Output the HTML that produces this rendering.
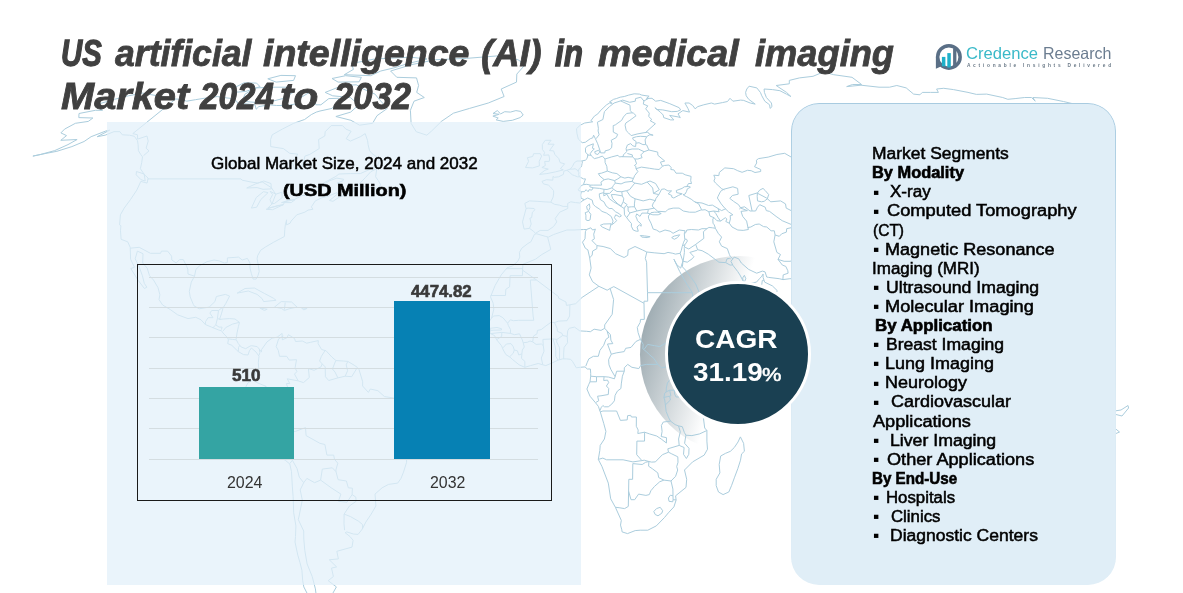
<!DOCTYPE html>
<html lang="en"><head><meta charset="utf-8"><title>US artificial intelligence (AI) in medical imaging Market 2024 to 2032</title>
<style>
html,body{margin:0;padding:0;background:#fff}
#root{position:relative;width:1183px;height:593px;overflow:hidden;background:#fff;font-family:"Liberation Sans",sans-serif}
.t{position:absolute;white-space:nowrap;line-height:1em;display:block;transform-origin:0 0}
.abs{position:absolute}
#lp{left:107px;top:122px;width:474px;height:462.5px;background:rgba(226,240,249,.72)}
#box{left:136.5px;top:264px;width:415px;height:236.5px;border:1px solid #1a1a1a;box-sizing:border-box}
.gl{position:absolute;left:149px;width:389px;height:1px;background:#d4dde1}
#b1{left:199px;top:387px;width:95px;height:72px;background:#34a4a3}
#b2{left:393.7px;top:301px;width:96.5px;height:158px;background:#0681b4}
#rp{left:790.5px;top:103px;width:325.5px;height:481.5px;border-radius:28px;background:#e0eef7}
#rpb{left:790.5px;top:103px;width:325.5px;height:481.5px;box-sizing:border-box;border-radius:28px;border:1.6px solid #a8cbe0;-webkit-mask-image:linear-gradient(to bottom,#000 0%,rgba(0,0,0,.85) 12%,rgba(0,0,0,.25) 35%,rgba(0,0,0,.08) 60%,transparent 100%);mask-image:linear-gradient(to bottom,#000 0%,rgba(0,0,0,.85) 12%,rgba(0,0,0,.25) 35%,rgba(0,0,0,.08) 60%,transparent 100%)}
#cres{left:639.7px;top:255.7px;width:197px;height:197px;border-radius:50%;background:linear-gradient(107deg,#7d8f97 0%,#a2afb5 11%,#fff 45%)}
#circ{left:665.1px;top:280.6px;width:146.3px;height:146.3px;border-radius:50%;background:#1a4052;border:3.4px solid #fff;box-sizing:border-box}
.bu{position:absolute;left:873.6px;width:4.2px;height:4.2px;background:#0a0a0a}

</style></head><body>
<div id="root">
<div class="abs" id="cres"></div>
<svg class="abs" id="map" style="left:0;top:0" width="1183" height="593" viewBox="0 0 1183 593" fill="none" stroke="#abcddd" stroke-width="1"><path d="M524.8 203.4L526.1 208.5L522.5 221.9L524.1 229.1L529.5 228.3L533.3 231.2L535.6 233.3L540.1 230.4L548.0 230.4L553.5 226.6L556.8 221.9L555.2 218.5L559.7 212.2L567.8 208.5L567.7 203.4L570.8 201.8L575.6 202.6L579.8 203.0L582.9 200.5L587.7 198.0L592.2 200.1L593.2 204.3L595.3 206.4L599.2 208.9L602.0 211.4L606.6 213.1L611.2 216.4L613.1 221.1L611.5 224.9L614.5 222.8L616.6 220.7L614.4 217.7L615.7 214.8L619.6 216.9L621.4 216.0L619.5 213.9L615.6 211.8L612.0 208.5L609.2 208.5L606.1 206.0L603.9 201.8L600.4 199.7L599.4 195.9L599.3 193.8L603.8 192.6L603.8 195.9L606.9 194.2L609.4 198.8L613.6 201.8L617.8 204.3L621.0 206.4L624.2 208.5L624.5 214.8L626.7 217.7L629.3 221.1L631.5 223.6L631.3 226.2L633.2 230.0L636.2 231.2L638.3 231.2L637.0 227.0L639.4 224.9L641.2 226.2L641.1 224.0L637.4 220.7L637.0 219.0L635.8 216.4L636.7 213.9L640.0 216.4L641.9 213.1L647.2 213.1L650.0 213.9L648.4 216.0L648.6 218.5L651.0 223.2L653.2 229.1L656.4 230.0L659.8 232.1L665.0 230.0L670.1 231.2L673.1 233.3L679.3 230.0L685.1 230.8L684.3 233.8L684.8 239.7L683.6 242.2L682.1 246.9L681.3 250.3L680.1 253.3L675.4 254.1L672.8 253.3L668.0 252.4L664.1 253.7L654.2 252.8L646.8 252.0L642.4 249.9L635.0 246.5L628.2 249.9L627.7 255.4L624.1 257.5L615.6 253.7L610.4 248.6L603.1 246.5L596.9 245.6L591.9 240.5L594.4 238.8L593.7 234.2L595.4 229.1L592.6 230.0L590.8 227.8L586.5 229.5L583.7 229.5L574.0 230.0L566.9 230.0L555.7 233.8L553.5 234.6L548.4 237.1L545.2 236.3L536.7 233.8L534.5 234.2L530.9 241.8L527.9 243.5L521.8 248.2L519.4 252.4L519.8 257.1L517.8 261.3L512.4 266.0L507.2 267.7L501.2 274.9L495.1 285.5L490.5 296.9L493.2 303.3L493.8 309.2L491.6 318.1L487.6 323.7L490.5 329.2L490.0 333.4L494.5 335.5L496.7 339.8L501.5 345.7L503.3 350.0L505.9 354.6L510.1 357.2L512.3 359.3L519.1 364.8L524.8 367.3L530.5 365.6L538.2 363.5L545.8 365.6L552.7 362.7L558.0 360.1L562.6 358.9L566.4 358.9L570.6 359.3L572.5 361.4L574.0 363.9L576.3 367.8L580.1 367.3L585.0 366.9L587.3 369.0L590.4 369.0L590.7 373.3L590.7 376.2L590.0 381.8L588.8 384.3L586.9 389.0L590.0 396.2L595.3 402.5L598.4 406.4L599.9 411.0L600.3 411.9L603.7 423.3L605.9 431.4L604.4 439.0L600.2 445.4L599.8 450.5L598.3 459.4L602.0 466.6L608.3 483.1L610.7 498.8L615.4 507.3L621.3 520.4L620.5 525.1L621.8 529.8L622.1 531.9L627.5 533.6L635.2 530.6L640.2 530.2L647.8 530.2L656.3 525.9L664.5 517.5L668.4 512.8L673.9 506.9L676.1 500.1L675.6 495.8L686.0 487.4L686.7 479.3L684.5 470.0L692.6 461.9L704.2 455.1L707.5 449.2L706.9 441.1L706.9 430.5L704.7 428.0L703.0 414.8L701.1 411.4L702.8 405.9L704.7 403.0L709.3 395.8L712.0 393.2L715.5 387.7L726.1 377.5L735.9 366.9L742.8 352.1L746.5 345.7L748.0 336.0L739.4 338.1L731.8 338.9L724.4 341.9L717.7 337.2L716.8 332.1L714.5 330.0L709.4 324.5L702.8 319.8L699.0 309.7L693.5 302.9L692.3 292.7L687.1 284.6L679.7 271.5L673.9 259.2L676.8 264.7L680.7 268.1L681.6 265.1L683.0 260.9L682.4 266.8L685.6 270.2L689.2 274.9L695.6 283.8L700.2 294.8L705.1 303.3L708.0 308.8L713.9 314.3L715.8 322.8L717.5 329.6L718.3 332.1L724.0 331.7L735.2 326.6L739.3 324.5L750.7 318.6L757.2 313.9L761.5 311.4L765.5 309.7L770.5 304.6L774.2 299.1L777.2 290.6L772.4 285.9L764.6 282.1L763.1 277.4L763.1 274.0L761.8 276.2L759.5 278.7L756.5 282.1L749.9 283.4L746.1 282.9L744.5 281.7L745.8 278.7L744.4 275.3L742.7 277.9L743.0 280.8L739.9 274.9L737.7 271.5L733.1 265.6L730.9 261.3L732.9 258.8L734.1 257.1L738.7 258.8L741.3 263.0L748.6 269.4L756.7 273.2L762.4 271.1L765.1 271.9L766.7 277.0L768.6 277.4L779.2 278.7L783.0 279.6L789.9 278.7L801.4 278.7L802.0 280.8L805.4 284.6L808.1 285.9M524.8 203.4L529.5 200.9L537.1 201.3L543.9 201.8L550.8 202.2L553.1 197.1L553.7 193.0L553.5 190.5L550.3 186.8L548.4 185.1L543.5 183.9L542.0 181.4L546.5 179.7L552.8 180.2L553.0 176.4L554.3 177.3L558.6 176.8L563.4 174.4L563.9 171.1L566.9 170.3L570.2 169.1L572.3 166.7L574.4 162.6L577.0 161.0L581.8 161.0L585.4 160.2L587.0 158.6L588.0 154.9L585.5 152.1L585.5 148.2L587.1 146.2L593.4 143.8L592.4 148.2L594.3 149.0L592.1 150.9L590.2 153.7L591.5 156.1L594.4 158.6L598.2 157.7L602.4 156.1L605.0 159.0L611.7 156.9L618.0 155.3L619.3 156.9L623.2 156.5L623.4 154.9L626.6 151.7L626.1 148.6L627.4 145.0L630.7 143.6L632.7 145.8L635.6 146.6L636.1 141.5L633.1 139.5L632.6 137.9L636.5 136.7L640.4 136.3L646.6 136.7L649.7 134.8L653.1 135.2L649.3 134.0L647.8 132.1L643.0 132.9L637.1 134.0L631.2 135.6L628.5 132.9L626.2 130.6L625.1 125.2L625.8 123.0L629.9 120.3L636.1 115.7L633.5 113.2L632.0 112.8L626.6 113.5L623.5 116.9L621.7 120.3L615.3 124.9L613.2 125.6L613.3 132.1L617.7 134.4L616.3 137.5L611.2 140.3L612.0 143.4L611.6 147.8L609.2 149.8L605.1 150.9L604.8 152.9L600.7 152.9L600.0 150.6L597.7 143.8L595.2 138.3L593.6 135.2L592.7 137.9L590.3 138.7L585.3 142.3L582.2 142.7L578.3 139.1L576.9 133.2L576.5 128.7L580.2 125.2L584.7 123.0L592.7 121.8L590.9 120.7L594.4 116.1L597.8 113.9L600.1 111.0L603.9 107.3L606.6 104.8L609.6 103.0L612.2 103.3L609.6 101.9L613.6 99.3L616.3 98.6L620.2 97.2L624.3 96.5L628.7 95.1L634.2 93.8L639.4 94.1L641.8 95.1L649.1 96.2L646.5 98.4L652.0 98.3L655.6 101.2L660.7 100.4L669.8 103.7L679.2 107.7L680.6 109.9L677.3 111.4L671.7 111.7L662.7 109.9L656.9 109.5L654.9 107.7L660.3 112.1L663.2 115.0L663.7 117.6L670.6 119.9L673.9 119.9L669.7 115.4L678.1 116.9L680.3 117.6L678.0 113.9L682.8 110.6L689.5 112.1L687.9 108.4L684.9 103.0L689.1 103.0L692.7 105.5L695.1 108.8L697.8 106.6L703.7 104.8L711.4 103.0L714.6 104.1L722.4 102.6L727.5 101.5L730.0 98.3L732.9 101.2L740.7 100.1L743.7 100.4L750.2 103.0L755.2 104.1L748.7 99.3L746.2 95.8L745.6 92.4L746.8 89.0L749.1 86.2L756.8 87.9L760.4 92.4L761.8 95.8L764.8 101.2L769.6 104.8L770.1 108.4L772.0 106.6L771.4 103.0L766.4 97.5L764.4 92.4L764.1 89.0L772.5 89.6L779.9 90.7L786.4 94.1L790.9 96.5L786.5 92.4L776.2 85.5L789.3 83.8L789.3 80.4L799.5 77.9L813.0 76.3L823.6 71.9L833.7 74.7L852.0 77.3L861.6 84.5L852.5 84.5L846.7 86.6L861.0 85.2L879.0 87.2L889.5 87.2L896.8 85.5L906.2 87.9L913.6 94.1L919.9 94.8L922.3 92.4L930.4 92.4L938.4 92.4L936.6 89.0L943.7 88.3L953.5 89.6L968.0 92.4L976.4 94.4L986.7 94.1L1002.7 97.5L1007.8 99.3L1015.1 98.6L1024.7 97.5L1031.5 97.5L1035.2 101.2L1032.9 97.5L1047.6 98.3L1063.4 101.5L1085.0 106.6L1107.5 112.1M657.9 211.4L654.1 208.1L652.2 206.0L653.3 203.0L655.5 200.5L655.7 198.8L658.8 194.6L661.6 189.3L664.3 188.9L667.9 190.9L671.6 190.9L668.2 193.8L671.8 195.5L671.7 197.1L673.8 198.0L678.3 195.5L682.2 193.8L676.6 192.6L676.3 190.5L682.1 188.4L684.3 186.8L688.9 186.4L690.4 187.2L687.3 188.9L686.6 191.3L685.0 194.2L683.0 194.6L684.9 195.9L686.7 196.7L691.2 199.2L693.9 201.3L698.7 203.9L701.6 209.7L695.3 212.2L689.4 212.2L683.3 211.0L679.1 208.1L673.2 208.1L668.1 209.3L665.6 211.8L660.0 211.4L657.9 211.4M650.0 213.9L652.9 214.8L658.2 214.8L661.2 213.5L657.9 212.2L654.4 212.2L651.0 212.7L650.0 213.9M721.2 203.9L724.7 208.1L728.5 211.8L732.9 214.8L730.2 215.6L730.4 219.0L729.3 223.2L732.0 227.0L737.8 230.0L743.2 230.4L748.4 229.5L746.6 221.1L742.7 216.4L741.0 211.4L747.4 210.6L740.7 208.1L738.6 204.7L733.5 201.3L729.8 198.4L732.4 195.5L738.2 194.2L737.6 188.4L732.9 186.8L723.6 189.3L720.6 191.3L718.1 196.3L717.4 198.0L721.2 203.9M757.5 200.9L761.5 201.8L764.2 201.3L767.3 198.8L768.7 194.6L765.2 190.5L763.0 188.4L759.7 190.1L757.4 193.0L757.2 196.3L757.5 200.9M678.9 385.6L683.4 386.8L683.4 390.2L681.1 394.9L679.2 397.0L676.1 397.0L674.6 394.1L674.3 389.8L676.2 386.0L678.9 385.6M740.4 436.9L743.6 443.3L744.4 451.3L741.6 453.9L740.5 460.2L737.8 468.7L734.6 477.2L731.5 485.7L728.8 492.0L723.1 494.6L718.5 492.0L716.2 485.7L716.2 479.3L719.9 472.9L719.2 464.5L720.7 456.0L725.4 453.4L730.4 451.3L734.3 447.5L738.0 442.0L740.4 436.9M600.4 225.3L603.6 224.0L611.0 223.8L610.0 228.3L609.7 230.4L606.8 229.1L602.2 227.0L600.4 225.3M585.2 212.7L588.7 211.4L590.8 214.3L590.1 219.8L588.0 220.7L585.9 219.8L585.9 215.2L585.2 212.7M586.6 206.4L589.4 203.9L589.9 207.6L588.7 210.6L587.3 209.7L586.6 206.4M640.3 235.5L644.6 235.9L650.1 236.7L647.2 237.6L641.8 237.1L640.3 235.5M671.7 237.6L674.1 236.1L679.7 234.8L677.5 237.6L674.3 239.3L671.7 237.6M755.5 332.6L760.0 332.8L758.2 333.8L755.5 332.6M539.6 174.4L546.9 173.6L555.3 171.9L563.3 169.9L560.4 168.7L564.6 163.8L560.1 162.6L558.8 158.6L554.9 154.5L553.6 150.9L549.5 150.6L554.1 144.2L547.9 144.2L551.1 140.3L545.2 140.3L542.3 144.6L542.4 149.4L544.6 152.5L543.6 155.3L548.8 154.9L549.7 159.0L549.2 161.4L544.7 161.4L545.3 165.5L541.9 167.5L548.3 169.1L544.9 170.3L539.6 174.4M539.2 161.4L539.4 165.9L532.7 167.9L525.5 167.5L528.6 161.4L527.4 157.7L532.7 156.5L533.6 153.7L540.3 153.7L541.6 156.1L539.2 161.4M496.2 119.9L503.2 121.4L512.3 120.3L520.1 117.6L523.2 115.0L520.6 111.4L515.9 110.6L510.4 112.1L504.7 111.7L500.7 113.9L497.3 110.6L493.0 113.5L499.2 114.3L492.9 116.1L498.2 118.0L496.2 119.9M594.7 151.7L598.8 150.2L599.7 152.1L597.9 154.5L595.3 153.7L594.7 151.7M175.6 99.0L166.6 97.5L151.9 94.8L142.5 93.1L128.4 95.8L114.5 99.3L99.6 103.7L99.5 108.4L102.5 110.3L95.4 110.3L79.0 113.5L78.8 117.6L92.9 118.0L88.3 121.4L75.4 123.3L64.6 129.1L60.9 132.9L66.5 135.6L60.8 140.3L77.1 139.5L68.0 144.6L54.7 150.6L40.4 154.5L32.9 156.1L44.5 153.7L56.9 151.3L71.9 146.6L84.1 141.5L91.1 136.7L105.8 131.0L109.7 130.2L97.2 136.7L105.1 135.2L113.9 131.7L119.9 131.7L122.3 134.8L129.5 135.2L134.4 136.3L137.5 140.7L138.1 144.6L138.4 150.6L140.7 154.5L142.5 156.9L141.7 162.6L140.4 168.7L144.5 174.8L148.2 178.1L147.1 183.1L140.8 181.4L136.8 190.1L130.4 199.7L124.2 208.1L120.4 214.8L119.6 224.9L120.9 225.7L120.5 230.8L121.1 239.3L127.7 241.8L130.2 247.3L130.6 259.2L134.5 267.3L130.8 268.5L137.9 280.0L144.4 288.5L146.9 287.2L144.3 283.4L142.4 275.7L139.3 267.3L135.2 258.8L137.4 251.1L143.0 253.7L142.7 263.0L147.2 268.1L149.5 275.7L153.5 280.0L158.0 287.6L159.9 294.8L159.0 299.5L162.6 305.0L170.5 309.7L177.6 314.8L188.0 318.6L195.7 317.3L201.0 319.8L205.3 324.5L211.5 327.1L218.7 330.0L221.7 330.9L223.0 333.0L227.5 337.7L228.4 339.8L227.7 343.6L231.8 345.3L236.1 349.5L238.3 351.6L243.5 354.6L248.0 355.0L249.4 350.8L251.4 348.0L256.1 352.1L259.0 356.3L258.3 362.7L258.8 369.0L254.1 375.4L252.9 380.1L248.2 382.6L246.2 386.0L244.8 390.2L244.9 395.3L248.4 397.0L247.3 400.4L243.6 405.5L245.0 411.4L249.5 415.7L254.9 424.6L261.5 436.9L265.2 444.9L270.3 451.3L280.0 456.8L285.7 460.6L289.8 464.0L291.5 471.7L292.3 486.1L293.1 496.3L293.7 512.8L295.9 525.9L295.5 536.5L295.0 542.0L297.8 555.1L300.0 562.7L301.9 570.2L302.7 580.7L303.8 586.9L309.1 597.2L316.0 605.3L324.0 611.4L331.4 613.4L339.8 617.5L347.2 621.1L351.4 616.3L338.5 609.4L336.4 606.5L331.9 601.3L332.9 593.1L336.4 586.9L328.2 580.7L333.4 576.5L331.5 568.1L336.6 566.9L329.3 559.8L338.4 558.9L336.8 551.3L352.0 547.1L353.1 540.3L350.0 536.5L345.1 532.7L346.8 531.9L353.3 534.0L358.1 534.4L362.4 528.9L365.8 522.1L371.2 514.1L375.9 506.0L375.5 500.5L375.0 494.1L382.1 487.8L388.5 484.4L397.7 483.1L401.0 478.4L403.5 472.1L406.6 462.3L406.4 449.6L407.9 441.1L412.5 433.5L417.9 427.1L420.8 420.4L419.1 408.1L412.4 405.9L406.7 401.7L400.9 398.3L393.3 397.9L384.5 396.6L377.9 390.7L370.3 389.0L368.4 392.4L362.6 386.0L362.7 381.8L359.0 369.5L357.2 367.3L354.2 365.2L347.8 361.4L343.3 361.0L336.0 360.6L332.0 357.2L326.1 350.8L321.6 349.5L318.1 343.6L318.3 340.6L310.6 342.3L306.7 343.2L302.3 341.0L295.5 341.5L294.5 338.5L288.4 334.7L287.0 337.7L282.3 339.8L282.1 333.4L277.2 337.2L272.2 338.1L267.0 341.9L261.6 349.5L261.5 352.1L259.3 349.1L257.2 346.6L251.5 345.7L250.0 346.1L245.7 348.7L241.2 347.0L238.3 343.6L236.1 339.4L237.0 333.0L238.4 326.6L239.5 322.4L235.0 319.0L229.4 318.6L223.7 319.0L219.5 319.4L221.4 313.9L223.0 308.0L225.9 303.3L229.6 296.1L225.4 294.4L216.4 296.5L214.9 301.6L209.2 307.1L199.2 308.8L194.0 305.8L193.4 304.6L190.2 296.9L189.3 291.4L191.3 282.1L194.5 276.2L195.9 269.4L199.8 265.6L207.0 261.7L214.0 260.0L219.3 260.9L224.3 263.0L227.3 262.6L227.4 257.9L233.0 257.5L238.6 257.1L242.2 260.0L247.4 258.4L250.0 263.0L250.0 268.1L251.4 273.6L253.1 279.1L256.1 279.1L257.9 275.7L259.2 271.5L258.3 265.1L257.1 258.8L257.6 255.8L260.6 250.3L265.6 246.9L273.7 242.2L280.1 238.8L284.4 236.5L284.8 229.5L285.3 224.9L286.6 219.8L286.4 224.9L290.1 223.2L291.1 221.1L296.8 214.8L304.8 212.2L308.0 210.1L312.9 209.3L311.4 206.8L315.3 200.9L321.2 198.0L327.9 196.3L332.0 194.6L336.9 192.6L337.3 194.2L329.5 200.5L333.0 201.3L339.3 197.1L349.2 194.2L353.7 191.3L354.2 187.2L348.3 192.2L343.3 191.7L338.9 190.1L339.9 183.9L337.2 183.1L343.2 180.6L343.7 179.3L336.9 178.1L329.0 181.0L322.0 186.0L317.0 188.0L324.3 182.6L335.9 176.4L338.9 174.0L350.3 173.6L360.3 173.6L370.4 169.1L377.4 166.3L379.4 160.6L376.3 156.5L372.1 153.7L369.5 150.6L368.1 144.6L367.6 140.7L365.2 133.6L360.4 136.7L350.4 141.1L346.2 138.7L351.1 131.3L345.9 129.1L342.5 125.6L331.2 125.6L325.2 131.7L324.8 136.0L318.6 139.5L319.2 148.6L309.6 154.5L304.9 156.1L303.5 162.6L301.2 168.7L294.8 169.5L292.6 163.0L297.7 154.1L289.7 153.3L283.4 148.6L270.7 146.6L270.6 139.5L272.2 134.8L282.3 129.1L293.7 123.3L304.6 119.5L311.3 114.6L316.3 112.1L320.0 111.0L332.0 108.4L337.8 101.9L338.7 98.3L328.8 98.6L320.9 104.8L315.8 104.8L314.2 101.2L310.9 98.6L312.3 90.7L300.9 97.5L294.9 104.1L286.6 105.5L276.7 105.5L269.0 104.8L258.8 106.6L256.2 109.2L255.0 104.8L244.9 103.7L238.8 105.5L236.6 101.2L230.2 98.3L222.8 97.5L217.3 96.5L211.8 97.5L204.1 98.3L195.4 99.7L186.7 101.2L180.7 99.3L175.6 99.0M426.8 135.2L416.2 131.7L411.1 123.3L410.4 110.3L414.0 101.2L424.3 97.5L416.7 92.4L418.6 85.5L416.5 77.9L396.8 77.3L390.6 71.0L411.4 64.7L435.4 59.7L466.3 58.4L497.5 55.9L518.0 59.7L525.1 64.7L516.8 74.1L516.5 82.1L501.2 89.0L504.1 96.5L488.3 103.0L469.6 108.4L453.4 113.2L441.4 121.4L431.6 131.0L426.8 135.2M372.6 123.3L359.6 125.2L350.9 120.3L335.9 116.5L350.7 112.1L358.8 104.8L350.3 97.5L332.7 95.8L325.2 92.4L342.6 85.5L356.3 84.8L363.2 89.0L375.0 94.1L379.2 99.3L387.3 108.4L377.0 115.7L372.6 123.3M272.6 101.2L257.3 102.6L242.1 101.2L245.0 94.1L255.7 87.9L275.0 87.2L288.2 87.2L293.0 92.4L283.8 98.3L272.6 101.2M233.8 92.4L231.8 89.0L244.1 82.8L256.6 83.1L260.0 86.6L245.9 91.4L233.8 92.4M370.7 75.7L344.3 74.7L353.4 69.4L351.6 63.5L374.5 59.0L410.9 57.2L427.0 59.0L408.1 63.5L393.9 67.9L380.8 71.0L370.7 75.7M359.1 81.8L338.1 82.1L332.0 78.5L345.6 75.7L361.4 77.3L359.1 81.8M293.6 80.4L276.1 82.1L267.8 78.8L280.9 75.4L295.5 75.7L293.6 80.4M358.5 184.7L368.6 187.6L378.4 188.4L380.6 184.7L378.3 180.6L375.6 176.8L376.8 168.7L371.0 171.5L365.3 177.7L358.5 184.7M237.2 293.1L245.0 288.5L254.4 288.0L264.7 293.6L273.4 298.2L276.1 300.3L263.6 301.6L262.1 298.6L257.1 294.4L248.3 291.0L237.2 293.1M274.5 307.1L281.2 301.6L291.6 302.0L297.1 307.1L289.0 308.8L284.3 310.5L281.5 308.4L274.5 307.1M259.8 308.0L267.2 309.2L264.4 310.5L259.8 308.0M301.5 308.0L307.1 308.4L303.9 309.9L301.5 308.0M136.4 171.5L144.2 174.0L145.2 181.0L141.0 179.7L136.2 174.8L136.4 171.5M246.7 188.0L255.6 183.9L263.8 181.0L271.0 183.5L271.3 188.9L263.0 189.3L257.1 187.6L246.7 188.0M251.4 208.1L256.7 207.2L260.7 199.7L268.1 192.6L263.4 191.7L256.2 197.6L251.4 208.1M270.1 191.3L275.8 194.2L281.9 192.2L282.2 197.6L274.6 203.4L271.7 203.9L270.0 199.7L272.6 194.6L270.1 191.3M266.2 209.3L272.6 209.7L283.4 204.7L277.9 205.5L269.9 208.1L266.2 209.3M281.5 202.6L291.2 202.6L295.1 199.7L288.8 200.1L281.5 202.6M526.1 208.5L528.2 208.1L534.1 208.5L535.0 209.7L532.4 212.2L531.6 217.7L529.9 218.1L531.2 224.0L529.5 228.3M550.8 202.2L554.5 204.3L559.3 205.1L563.1 206.4L567.9 206.4M566.9 170.3L569.1 171.9L572.3 174.8L574.6 175.6L577.5 176.8L579.5 176.8L583.5 178.9L585.5 178.9L583.4 184.7M569.9 169.1L572.8 169.1L575.1 168.7L578.0 170.7L578.3 171.5M578.3 171.5L579.0 172.8L578.6 174.4L579.5 176.8M578.3 171.5L579.1 168.7L581.1 167.1L581.7 165.5L582.1 163.4L582.5 161.4M583.4 184.7L581.4 185.5L578.3 189.7L578.6 190.5L580.6 191.3L581.3 191.7L580.6 195.1L581.2 198.4L583.6 199.2L582.9 200.5M583.4 184.7L586.8 184.3L590.2 185.1L589.8 186.8L593.2 187.8M581.3 191.7L584.4 191.7L586.1 189.7L588.1 191.7L589.1 189.7L591.8 190.1L593.2 187.8M587.0 154.9L590.9 155.3M607.3 171.1L606.8 166.3L605.1 162.6L605.0 159.0M607.3 171.1L601.4 173.2L598.4 173.6L599.8 176.0L604.2 179.7M604.2 179.7L608.2 178.9L614.6 180.6M614.6 180.6L617.8 178.9L620.9 176.8M620.9 176.8L616.9 173.6L612.3 172.8L607.3 171.1M633.5 178.5L628.1 177.3L624.8 178.1L620.9 176.8M614.6 180.6L615.3 183.1L621.1 183.9L625.0 182.2L632.0 181.4M632.0 181.4L633.5 178.5M632.0 181.4L634.8 183.1L629.5 189.7L626.5 190.7M626.5 190.7L621.8 191.7L617.0 191.5L613.5 189.3M613.5 189.3L612.1 187.8L613.4 185.5L615.3 183.1M612.1 187.8L607.1 189.5L604.0 189.3L599.6 188.4L593.2 187.8M604.2 179.7L600.9 182.2L601.6 185.1L593.2 185.1L590.2 185.1M604.0 189.3L603.8 192.6M603.8 193.4L609.6 193.4L613.5 189.3M611.3 194.6L615.1 194.6L622.3 195.9M611.3 194.6L612.8 198.8L617.8 203.9L621.0 206.0M622.3 195.9L623.8 198.8L623.2 201.8L621.0 206.0M622.3 195.9L621.8 191.7M624.2 208.7L625.5 206.0L626.5 205.5L628.0 207.2L628.2 211.0L630.0 212.9M623.2 201.8L627.2 204.7L626.5 205.5M628.0 207.2L631.4 206.8L634.5 206.8M626.7 217.7L630.0 212.9L636.9 211.0L642.0 209.9L648.4 209.3M635.1 198.8L634.4 203.9L634.5 206.8L636.9 211.0M648.4 209.3L654.1 208.1M648.4 209.3L647.5 213.3M655.5 200.7L649.9 199.2L643.2 200.9L635.1 198.8M635.1 198.8L630.5 196.3L626.5 190.7M634.8 183.1L641.6 184.3L647.1 182.0M647.1 182.0L652.7 188.0L653.5 193.4M647.1 182.0L650.0 181.0L655.6 183.5L659.3 189.7L653.5 193.4L658.8 194.6M636.0 168.7L637.9 171.5L634.6 175.6L633.5 178.5M636.0 168.7L635.8 166.3L634.4 165.5L636.6 163.8L634.9 159.0L632.5 156.9L622.2 156.7M632.5 156.9L632.3 154.9L627.4 153.5M634.9 159.0L637.8 159.0L642.1 157.7L640.9 154.9L644.1 151.7L648.9 150.0M626.4 150.3L632.1 149.0L638.4 149.0L644.1 151.7M636.1 143.2L639.0 142.7L642.9 144.6L645.7 144.6M648.9 150.0L646.7 145.0L645.7 144.6L645.1 139.9L646.6 136.9M662.5 166.3L660.4 162.2L664.7 161.0L657.9 155.3L657.7 152.1L648.9 150.0M662.5 166.3L659.0 169.5L654.7 169.1L649.7 168.3L641.4 167.1L636.0 168.7M686.6 186.8L688.5 183.5L691.5 183.5L690.7 180.6L691.1 176.4L685.2 174.8L682.3 173.2L676.0 173.2L673.9 169.9L670.8 169.5L671.2 167.5L668.9 165.0L664.4 165.5L662.5 166.3M596.1 138.7L599.1 134.8L598.1 131.0L598.4 128.3L597.4 122.2L602.9 119.5L604.4 111.7L609.5 106.6L614.1 103.0L620.6 100.9M620.6 100.9L630.0 105.2L630.3 110.6L632.2 112.8M620.6 100.9L622.7 100.1L629.6 102.3L635.3 101.2L635.5 98.6L640.8 97.2L643.9 101.0L648.7 98.3M643.9 101.0L643.3 104.1L647.8 105.9L645.7 108.8L649.3 113.2L648.7 116.5L651.8 119.5L650.2 120.7L655.4 123.7L645.4 132.7M684.3 233.8L685.9 232.5L686.8 230.0L691.3 229.5L698.5 230.0L701.9 228.7L706.9 228.7M706.9 228.7L708.9 227.4L712.5 227.8L715.4 228.3L714.3 224.9L713.0 223.2L712.8 219.0L714.0 217.7M714.0 217.7L709.9 216.0L708.9 211.8L705.1 209.7L701.5 210.1M695.0 202.2L702.0 203.0L708.6 205.5L712.4 205.1L718.1 208.5M708.9 211.8L713.7 211.0L719.1 211.8L718.1 208.5L721.6 210.6L725.8 208.7M713.7 211.0L715.8 213.5L718.2 217.7L720.5 221.1M714.0 217.7L716.9 220.7L720.5 221.1L725.3 217.7L726.9 219.0L725.8 221.5L729.3 223.2M706.9 228.7L703.4 231.7L703.8 238.4L695.7 244.4M695.7 244.4L688.8 249.0L685.1 247.3M682.4 245.6L684.9 244.8L687.4 241.0L686.6 239.3L685.0 239.1M684.9 244.8L684.3 247.3L684.3 248.6L684.4 252.4L683.2 260.9M680.1 253.3L682.8 260.9M683.2 261.3L687.3 262.2L692.2 258.8L693.9 256.7L689.9 252.4L696.9 250.3L697.6 249.7L695.7 244.4M697.6 249.7L702.1 250.7L708.2 254.1L718.9 262.2L725.1 262.6L725.7 262.6L730.1 265.1L732.7 264.9M725.7 262.6L727.0 258.8L729.5 258.4L730.7 258.8M715.4 228.3L718.2 233.3L721.6 237.1L719.3 241.8L721.6 246.1L727.3 248.6L729.4 254.5L730.4 256.7L732.9 258.8M715.1 316.5L716.4 312.2L720.2 312.2L728.5 313.1L732.7 313.5L735.0 308.8L738.3 307.1L749.1 305.4M749.1 305.4L753.9 315.4M749.1 305.4L760.1 301.2L762.0 292.7L760.0 289.7L750.3 288.9L746.2 283.8M760.0 289.7L761.8 284.2L762.3 280.4L763.8 280.4M743.0 281.0L744.5 281.7M747.7 227.6L750.8 227.0L755.3 224.5L759.2 224.0L763.5 226.6L766.8 227.0L771.1 230.8L774.3 230.8L775.1 235.0M775.1 235.0L773.8 241.8L776.9 252.4L780.5 254.5L778.0 259.4L782.4 265.1L785.8 266.4L787.8 270.7L788.1 273.2L783.2 274.9L782.9 279.1M778.0 259.4L784.1 261.3L790.0 261.3L797.7 259.2L797.4 255.0M775.1 235.0L779.3 236.3L781.7 233.8L786.4 232.1L786.7 228.7L792.5 227.4M792.5 227.4L792.3 224.9L782.2 220.7L776.1 216.4L769.6 211.4L766.3 210.6L765.2 207.2L759.7 204.7L757.5 207.2L755.6 211.0L752.1 211.0M739.3 209.1L740.9 207.6L744.6 206.8L750.0 211.0L752.1 211.0M752.1 211.0L748.8 195.5L757.0 193.0L766.5 198.0L770.8 201.8L780.6 200.9L785.5 203.9L786.2 208.1L794.3 212.2M724.4 189.9L721.8 188.9L715.6 183.1L713.9 181.0L715.0 178.1L713.8 175.2L718.8 175.6L719.4 172.3L724.8 167.9L733.6 168.7L737.7 170.7L742.1 172.3L747.5 170.3L751.2 170.7L755.0 172.5L760.7 171.5L760.7 169.5L754.5 166.7L756.7 163.0L756.4 160.2L758.5 158.6L768.2 157.1L776.9 154.5L784.7 153.3L793.8 158.6M147.6 178.9L240.9 178.9L242.2 180.2L250.0 181.8L257.8 183.1L262.1 181.8L271.3 187.6L273.8 191.3L275.8 194.2L272.0 203.9L267.8 208.1L283.4 204.7L284.6 201.8L294.1 199.7L301.9 195.5L312.9 195.5L319.2 190.1L324.8 185.5L329.0 186.8L326.7 192.6L327.9 196.3M175.6 99.0L132.8 133.6L137.5 134.8L137.6 139.1L147.0 136.0L148.2 141.1L146.1 148.2L149.0 150.9L143.5 155.7M130.2 248.2L139.2 247.3L150.4 253.3L160.6 253.3L161.4 251.1L167.6 251.1L171.6 256.2L171.8 260.0L176.2 263.0L179.6 259.6L183.3 259.6L186.7 266.4L187.8 269.4L188.0 274.0L194.5 276.2M205.3 324.5L205.6 321.5L208.1 317.7L213.0 317.7L209.9 313.1L211.7 310.5L218.5 310.5L222.3 307.5M218.5 310.5L217.4 318.6L220.6 319.4M212.9 327.7L215.8 324.9L217.4 318.6M215.8 324.9L219.0 327.1L222.1 327.1L221.4 329.6M223.2 330.9L225.8 327.5L232.5 324.1L239.1 322.4M228.5 338.9L232.3 339.4L236.0 339.8M238.3 351.6L238.5 347.4L239.8 345.3M259.0 355.5L259.9 352.5L259.3 349.1M283.4 336.0L278.6 338.9L276.2 346.6L278.3 350.4L279.5 356.3L286.7 356.3L289.2 360.1L296.5 359.7L295.1 367.8L296.9 371.6L294.5 374.1L298.2 380.9M298.2 380.9L287.2 378.8L289.8 383.5L286.4 383.5L288.7 390.7L287.0 403.8M252.9 380.1L257.0 382.6L266.1 386.4L264.9 386.4L272.7 391.5L286.1 397.5L287.0 403.8M266.1 386.4L265.1 392.4L255.0 400.4L252.4 407.2L248.2 404.2L247.3 400.4M287.0 403.8L275.7 408.1L272.4 417.4L276.5 424.6L279.3 428.4L285.3 426.3L285.8 432.6L289.5 432.4M289.5 432.4L293.5 439.0L293.1 448.8L291.3 453.4L293.8 456.0L292.4 460.2L289.8 463.6M289.5 432.4L295.5 431.4L305.5 427.6L306.1 435.6L319.9 443.3L324.9 444.5L326.9 455.1L333.7 455.1L334.5 459.4L337.8 463.2L335.9 470.0L336.0 471.7M292.4 460.2L297.1 468.7L299.3 477.2L303.7 482.7M303.7 482.7L306.9 478.4L314.6 482.7L320.6 480.1L322.3 469.1L332.3 467.8L336.0 471.7M336.0 471.7L338.1 479.7L346.4 481.0L348.3 487.8L352.4 488.2L352.1 494.6M320.6 480.1L331.2 487.8L340.9 494.1L338.4 501.3L347.0 502.2L352.1 494.6M352.1 494.6L355.8 497.1L356.1 501.3L349.4 506.0L344.1 514.1L344.0 523.8L344.6 530.2M344.1 514.1L350.5 516.6L358.7 521.3L362.7 524.7L362.4 528.9M303.7 482.7L300.2 489.9L302.3 500.1L299.5 514.1L298.3 519.6L303.7 531.0L303.8 539.1L304.8 550.5L307.1 563.9L312.2 576.5L315.4 588.9L316.7 599.2L322.9 604.9L336.4 606.5M298.2 380.9L303.5 382.6L309.3 377.5L308.4 368.6L314.1 370.3L321.0 366.9L322.2 363.9M322.2 363.9L319.6 361.0L321.4 356.3L325.4 350.0M322.2 363.9L325.2 366.9L325.4 376.7L328.7 380.5L337.9 377.9M337.9 377.9L335.0 372.0L332.4 369.0L335.6 361.0M337.9 377.9L345.2 376.2L347.6 370.7L346.2 364.8L347.8 361.4M345.2 376.2L351.7 376.7L356.4 369.0M285.2 302.5L284.4 309.7M547.6 237.1L549.2 243.1L550.8 249.4L541.9 254.5L535.5 259.2L522.9 264.3L522.6 270.2M522.7 268.7L506.0 268.7M522.6 270.2L522.4 275.7L510.1 275.7L509.6 286.8L505.8 289.3L505.5 295.5L490.6 295.5M522.6 270.2L536.5 280.0M536.5 280.0L530.3 280.0L533.1 316.0L533.8 320.3L518.7 320.3L513.4 320.7L510.4 319.8L507.6 323.2M507.6 323.2L502.9 317.7L499.2 315.6L493.5 316.0L491.6 318.1M536.5 280.0L558.4 296.5L558.6 298.2L566.0 302.0L566.4 305.4L569.9 304.8M569.9 304.8L575.7 303.7L582.1 297.4L598.9 286.3M598.9 286.3L592.6 281.7L589.3 274.9L591.1 268.1L589.7 257.9M589.7 257.9L587.9 249.9L585.3 248.2L582.5 242.2L585.0 238.8L585.4 231.7L586.5 229.5M589.7 257.9L592.2 255.0L592.6 251.1L596.9 248.6L596.9 245.6M598.9 286.3L607.2 290.2L610.1 288.5M610.1 288.5L613.8 286.6L644.0 303.3M644.0 303.3L644.0 301.2L647.7 301.2L647.5 292.7M647.5 292.7L646.6 262.2L645.3 258.4L646.8 252.0M647.5 292.7L671.0 292.7L671.4 291.9L671.8 292.7L691.9 292.7M610.1 288.5L613.6 299.5L612.2 314.3L604.7 324.9L604.7 328.3M569.9 304.8L569.6 316.0L567.0 320.7L558.7 321.1L554.5 322.6M554.5 322.6L551.1 322.2L546.1 325.8L541.2 329.6L537.4 330.4L537.0 333.8L533.5 336.0L532.7 341.9M554.5 322.6L557.1 328.3L557.4 331.3L562.0 333.4L562.7 335.5M562.7 335.5L567.2 336.4M567.2 336.4L567.7 330.9L569.2 328.3L574.5 327.1L579.8 330.9L586.6 331.3L590.4 331.7L594.1 329.2L601.0 330.4L604.7 328.3L607.0 330.9M567.2 336.4L567.6 342.7L564.1 347.4L563.7 352.9L563.7 358.9M559.5 359.7L559.6 347.8L558.5 345.7L556.6 341.9L557.0 339.4L562.7 335.5M558.0 360.1L555.7 356.3L555.8 350.8L555.0 345.7L553.6 341.0L553.2 338.9L557.0 339.4M553.2 338.9L542.9 339.4L543.3 345.7L544.0 351.2L541.3 358.0L542.7 364.4M532.7 341.9L536.1 344.4L541.4 344.0L543.3 345.7M532.7 341.9L530.0 341.0L527.3 342.3L523.2 342.7M523.2 342.7L524.3 347.0L522.3 350.0L521.9 353.8M521.9 353.8L521.5 358.4L524.9 361.4L524.8 367.3M521.9 353.8L518.8 355.0L517.4 350.8L514.3 350.0M514.3 350.0L513.2 353.3L509.7 356.7M514.3 350.0L513.2 346.6L511.0 343.6L506.4 344.0L503.0 347.8M523.2 342.7L522.1 339.4L519.5 333.8L514.6 334.7L510.4 333.4M510.4 333.4L510.5 329.6L508.3 325.4L507.6 323.2M510.4 333.4L501.8 332.4L490.4 333.6M501.8 332.4L501.7 336.4L496.7 339.6M490.1 328.3L497.0 327.5L501.5 328.7L501.4 330.0L493.9 330.2L490.1 330.4M607.0 330.9L608.9 337.2L605.9 339.4L603.7 345.3L599.9 350.4L598.3 356.3L593.4 356.3L588.8 358.9L587.3 362.3L585.8 366.1M607.0 330.9L610.4 334.7L610.9 340.2L612.8 343.6L607.5 344.0L611.3 354.2M611.3 354.2L616.2 352.9L624.2 351.6L625.7 348.3L631.0 347.4L635.9 341.5L640.4 339.4M640.4 339.4L638.1 332.6L637.3 327.5L640.2 322.4L640.5 319.4L644.3 319.4L644.0 303.3M611.3 354.2L608.6 359.7L609.0 364.8L610.9 369.5L615.1 376.7M615.1 376.7L614.4 378.8L608.7 377.1L604.1 376.7L596.5 376.7L590.7 376.2M596.5 376.7L596.5 381.8L590.0 381.8M604.1 376.7L603.7 380.5L607.5 380.1L608.7 382.6L606.4 386.0L608.7 388.5L608.3 394.5L601.0 395.8L597.6 396.2L598.7 400.8L595.7 402.5M624.3 371.2L622.4 376.2L621.3 383.9L620.9 388.5L617.4 391.1L615.1 395.3L614.4 400.8L611.7 404.2L608.3 406.8L604.5 406.8L602.9 405.5L601.4 407.2L599.9 410.6M615.1 376.7L616.7 371.2L624.3 371.2M624.3 371.2L624.3 367.8L627.7 364.4L631.9 367.3L638.8 368.6L640.6 365.6L646.4 364.4L657.8 364.4M640.4 339.4L643.2 344.4L642.8 348.7L645.9 351.2L649.3 354.6L653.9 358.4L657.8 364.4M644.3 349.1L647.7 344.4L654.6 345.7L659.9 346.6L665.5 343.2L670.5 344.4L674.9 335.5L679.4 334.3L679.2 340.6L683.0 345.7M683.0 345.7L683.7 341.0L686.6 336.0L690.3 332.1L691.7 325.4M691.7 325.4L691.6 321.5L693.2 313.9L699.0 309.7M691.7 325.4L696.9 322.8L701.1 324.1L705.6 324.9L711.1 329.2L714.2 333.0L716.8 332.1M714.2 333.0L712.0 336.8L712.1 339.4L716.3 339.6L717.6 337.4M716.3 339.6L716.8 343.6L720.7 347.8L732.2 352.1L736.0 352.1L724.8 364.8L719.1 366.1L713.1 369.2M713.1 369.2L709.6 374.1L709.7 389.8L712.0 393.2M713.1 369.2L708.9 368.2L703.9 371.6L698.6 370.7L694.0 367.3L690.2 366.5M690.2 366.5L687.9 363.1L685.5 357.6L679.0 352.9L682.0 350.4L683.0 345.7M690.2 366.5L683.0 368.2L676.1 370.7L671.5 370.3L671.0 371.2M671.0 371.2L666.6 366.9L661.6 367.8L657.8 364.4M683.0 368.2L685.3 373.7L686.8 378.8L684.9 381.3L683.1 385.2L682.7 390.2M682.7 390.2L697.1 399.1L697.1 400.8L702.8 405.9M682.7 390.2L669.7 390.2L666.2 391.9M666.2 391.9L666.3 388.1L667.4 383.0L672.3 376.7L671.0 371.2M666.2 391.9L664.7 393.2L663.9 397.5L664.7 400.0L665.4 404.9M669.7 390.2L670.8 395.8L669.7 396.2L670.4 400.0L665.4 404.9M663.9 397.5L667.4 396.6L669.7 396.2M665.4 404.9L666.1 411.4L668.7 417.8L670.6 421.2M670.6 421.2L675.1 424.6L678.5 425.9M678.5 425.9L682.3 426.7L684.4 432.6L685.9 435.2M685.9 435.2L691.9 435.6L699.6 433.9L706.9 430.5M685.9 435.2L684.6 443.3L689.0 448.3L688.8 454.3L686.4 458.5L683.5 454.3L684.1 447.5L679.2 445.4M679.2 445.4L678.6 439.0L680.3 431.8L678.5 425.9M670.6 421.2L663.3 422.0L661.4 425.4L662.1 431.4L661.2 436.5L666.5 437.7L666.4 443.0L661.2 439.0L656.7 436.0L649.5 433.9L644.6 432.2M644.6 432.2L637.8 433.5L638.2 430.1L636.3 426.3L636.4 417.0L631.4 417.0L630.7 415.3L627.6 415.7L627.2 419.9L620.4 420.4L616.6 411.0L602.9 411.0L600.3 411.9M644.6 432.2L644.5 441.1L636.9 441.1L636.7 454.7L641.9 460.6M598.3 459.4L602.8 458.1L606.6 459.8L623.1 459.8L632.9 461.9L641.9 460.6L644.2 460.2L648.9 461.5M648.9 461.5L645.6 462.3L642.2 464.5L632.8 463.6L632.6 479.3L628.8 479.3L628.6 491.2M628.6 491.2L628.3 506.4L624.6 508.6L619.1 507.7L615.4 507.3M628.6 491.2L631.0 499.7L634.7 499.7L638.6 494.1L645.9 495.4L649.3 494.6L650.9 490.7L654.4 486.5L659.7 481.8L663.9 480.1M648.9 461.5L648.6 466.2L652.3 468.7L657.8 472.9L658.7 477.6L663.9 480.1M648.9 461.5L651.6 462.1L655.4 461.9L662.4 454.7L668.5 452.2M668.5 452.2L667.8 448.8L679.2 445.4M668.5 452.2L671.8 453.9L677.8 456.8L678.0 462.3L676.7 466.6L677.7 470.0L675.6 476.3L671.0 481.0M663.9 480.1L671.0 481.0M671.0 481.0L672.9 489.1L673.0 495.8L673.1 499.7L676.1 499.9M673.0 495.8L670.4 495.2L668.4 498.0L669.0 501.3L672.7 501.8L673.1 499.7M653.8 511.5L656.5 508.6L660.2 507.3L662.7 510.7L661.8 513.2L658.0 515.8L655.2 514.5L653.8 511.5M1114.5 411L1121 410L1128 405.5L1128.6 408L1122 416L1116 414.5M1114.5 428L1119.5 432L1116 433.5"/></svg>
<div class="abs" id="lp"></div>
<div class="abs" id="rp"></div>
<div class="abs" id="rpb"></div>
<div class="abs" id="circ"></div>
<div class="gl" style="top:276.5px"></div>
<div class="gl" style="top:306.8px"></div>
<div class="gl" style="top:337.2px"></div>
<div class="gl" style="top:367.5px"></div>
<div class="gl" style="top:397.9px"></div>
<div class="gl" style="top:428.2px"></div>
<div class="gl" style="top:458.5px"></div>
<div class="abs" id="b1"></div>
<div class="abs" id="b2"></div>
<div class="abs" id="box"></div>
<svg class="abs" id="logo" style="left:930px;top:38px" width="40" height="38" viewBox="930 38 40 38">
<circle cx="948.9" cy="56.9" r="11.25" fill="none" stroke="#5a6f86" stroke-width="3.5"/>
<path d="M935.9 56.5 L935.9 68.7 L941.4 66.3 L938 60 Z" fill="#5a6f86"/>
<rect x="941.9" y="56.9" width="3.5" height="9.4" fill="#1eb0c9"/>
<rect x="947.3" y="53.1" width="3.5" height="14.4" fill="#1eb0c9"/>
<rect x="953.1" y="48.6" width="3.3" height="17.8" fill="#5a6f86"/>
</svg>


<span class="t" id="t1_0" style="left:61.12px;top:34.58px;font-size:37px;font-weight:700;font-style:italic;color:#404040;transform:scaleX(0.7918);letter-spacing:0.00px;-webkit-text-stroke:1.3px #404040;">US</span>
<span class="t" id="t1_1" style="left:115.40px;top:34.58px;font-size:37px;font-weight:700;font-style:italic;color:#404040;transform:scaleX(0.9615);letter-spacing:0.00px;-webkit-text-stroke:0.8px #404040;">artificial</span>
<span class="t" id="t1_2" style="left:262.70px;top:34.58px;font-size:37px;font-weight:700;font-style:italic;color:#404040;transform:scaleX(1.0143);letter-spacing:0.00px;-webkit-text-stroke:0.8px #404040;">intelligence</span>
<span class="t" id="t1_3" style="left:481.01px;top:34.58px;font-size:37px;font-weight:700;font-style:italic;color:#404040;transform:scaleX(0.9850);letter-spacing:0.00px;-webkit-text-stroke:0.8px #404040;">(AI)</span>
<span class="t" id="t1_4" style="left:555.00px;top:34.58px;font-size:37px;font-weight:700;font-style:italic;color:#404040;transform:scaleX(0.8500);letter-spacing:0.00px;-webkit-text-stroke:1.3px #404040;">in</span>
<span class="t" id="t1_5" style="left:598.20px;top:34.58px;font-size:37px;font-weight:700;font-style:italic;color:#404040;transform:scaleX(1.0216);letter-spacing:0.00px;-webkit-text-stroke:0.8px #404040;">medical</span>
<span class="t" id="t1_6" style="left:754.60px;top:34.58px;font-size:37px;font-weight:700;font-style:italic;color:#404040;transform:scaleX(0.9801);letter-spacing:0.00px;-webkit-text-stroke:0.8px #404040;">imaging</span>
<span class="t" id="t2_0" style="left:61.20px;top:77.68px;font-size:37px;font-weight:700;font-style:italic;color:#404040;transform:scaleX(1.0752);letter-spacing:0.00px;-webkit-text-stroke:0.8px #404040;">Market</span>
<span class="t" id="t2_1" style="left:200.30px;top:77.68px;font-size:37px;font-weight:700;font-style:italic;color:#404040;transform:scaleX(0.8976);letter-spacing:0.00px;-webkit-text-stroke:1.0px #404040;">2024</span>
<span class="t" id="t2_2" style="left:280.20px;top:77.68px;font-size:37px;font-weight:700;font-style:italic;color:#404040;transform:scaleX(1.1000);letter-spacing:0.00px;-webkit-text-stroke:0.8px #404040;">to</span>
<span class="t" id="t2_3" style="left:333.64px;top:77.68px;font-size:37px;font-weight:700;font-style:italic;color:#404040;transform:scaleX(0.9361);letter-spacing:0.00px;-webkit-text-stroke:1.0px #404040;">2032</span>
<span class="t" id="c1" style="left:210.76px;top:154.62px;font-size:16.4px;font-weight:400;font-style:normal;color:#000;transform:scaleX(1.0380);letter-spacing:0.00px;-webkit-text-stroke:0.5px #000;">Global Market Size, 2024 and 2032</span>
<span class="t" id="c2" style="left:282.90px;top:181.61px;font-size:17px;font-weight:700;font-style:normal;color:#000;transform:scaleX(1.1667);letter-spacing:0.00px;-webkit-text-stroke:0.6px #000;">(USD Million)</span>
<span class="t" id="v1" style="left:232.00px;top:367.10px;font-size:16.3px;font-weight:700;font-style:normal;color:#3a3a3a;transform:scaleX(1.0519);letter-spacing:0.00px;-webkit-text-stroke:0.6px #3a3a3a;">510</span>
<span class="t" id="v2" style="left:411.20px;top:283.30px;font-size:16.3px;font-weight:700;font-style:normal;color:#3a3a3a;transform:scaleX(1.0310);letter-spacing:0.00px;-webkit-text-stroke:0.6px #3a3a3a;">4474.82</span>
<span class="t" id="y1" style="left:227.10px;top:475.46px;font-size:16px;font-weight:400;font-style:normal;color:#333;transform:scaleX(0.9971);letter-spacing:0.00px;-webkit-text-stroke:0;">2024</span>
<span class="t" id="y2" style="left:429.61px;top:475.46px;font-size:16px;font-weight:400;font-style:normal;color:#333;transform:scaleX(0.9941);letter-spacing:0.00px;-webkit-text-stroke:0;">2032</span>
<span class="t" id="g1" style="left:695.28px;top:327.44px;font-size:25px;font-weight:700;font-style:normal;color:#fff;transform:scaleX(1.1208);letter-spacing:0.00px;-webkit-text-stroke:0;">CAGR</span>
<span class="t" id="g2" style="left:693.33px;top:359.29px;font-size:26px;font-weight:700;font-style:normal;color:#fff;transform:scaleX(1.0714);letter-spacing:0.00px;-webkit-text-stroke:0;">31.19</span>
<span class="t" id="g3" style="left:761.99px;top:366.06px;font-size:18px;font-weight:400;font-style:normal;color:#fff;transform:scaleX(1.2143);letter-spacing:0.00px;-webkit-text-stroke:0.5px #fff;">%</span>
<span class="t" id="lg1" style="left:965.79px;top:44.93px;font-size:16.5px;font-weight:400;font-style:normal;color:#2ab4c4;transform:scaleX(1.0071);letter-spacing:0.00px;opacity:.92;">Credence</span>
<span class="t" id="lg2" style="left:1043.13px;top:44.93px;font-size:16.5px;font-weight:400;font-style:normal;color:#5f7287;transform:scaleX(0.9681);letter-spacing:0.00px;opacity:.92;">Research</span>
<span class="t" id="lg3" style="left:966.90px;top:64.14px;font-size:4.8px;font-weight:700;font-style:normal;color:#6b7a88;transform:scaleX(1.0000);letter-spacing:2.75px;-webkit-text-stroke:0px #6b7a88;">Actionable Insights Delivered</span>
<span class="t" id="l0" style="left:872.11px;top:146.16px;font-size:16px;font-weight:400;font-style:normal;color:#000;transform:scaleX(1.0911);letter-spacing:0.00px;-webkit-text-stroke:0.5px #000;">Market Segments</span>
<span class="t" id="l1" style="left:872.18px;top:165.26px;font-size:16px;font-weight:700;font-style:normal;color:#000;transform:scaleX(1.0247);letter-spacing:0.00px;-webkit-text-stroke:0.6px #000;">By Modality</span>
<span class="t" id="l2" style="left:890.30px;top:184.36px;font-size:16px;font-weight:400;font-style:normal;color:#000;transform:scaleX(1.0658);letter-spacing:0.00px;-webkit-text-stroke:0.5px #000;">X-ray</span>
<span class="t" id="bu2" style="left:872.55px;top:183.51px;font-size:17px;font-weight:400;font-style:normal;color:#000;transform:scaleX(1.0500);letter-spacing:0.00px;-webkit-text-stroke:0;">▪</span>
<span class="t" id="l3" style="left:886.60px;top:203.46px;font-size:16px;font-weight:400;font-style:normal;color:#000;transform:scaleX(1.1422);letter-spacing:0.00px;-webkit-text-stroke:0.5px #000;">Computed Tomography</span>
<span class="t" id="bu3" style="left:872.55px;top:202.61px;font-size:17px;font-weight:400;font-style:normal;color:#000;transform:scaleX(1.0500);letter-spacing:0.00px;-webkit-text-stroke:0;">▪</span>
<span class="t" id="l4" style="left:872.93px;top:222.56px;font-size:16px;font-weight:400;font-style:normal;color:#000;transform:scaleX(0.9700);letter-spacing:0.00px;-webkit-text-stroke:0.5px #000;">(CT)</span>
<span class="t" id="l5" style="left:885.47px;top:241.66px;font-size:16px;font-weight:400;font-style:normal;color:#000;transform:scaleX(1.1282);letter-spacing:0.00px;-webkit-text-stroke:0.5px #000;">Magnetic Resonance</span>
<span class="t" id="bu5" style="left:872.55px;top:240.81px;font-size:17px;font-weight:400;font-style:normal;color:#000;transform:scaleX(1.0500);letter-spacing:0.00px;-webkit-text-stroke:0;">▪</span>
<span class="t" id="l6" style="left:872.14px;top:260.76px;font-size:16px;font-weight:400;font-style:normal;color:#000;transform:scaleX(1.0620);letter-spacing:0.00px;-webkit-text-stroke:0.5px #000;">Imaging (MRI)</span>
<span class="t" id="l7" style="left:885.50px;top:279.86px;font-size:16px;font-weight:400;font-style:normal;color:#000;transform:scaleX(1.1036);letter-spacing:0.00px;-webkit-text-stroke:0.5px #000;">Ultrasound Imaging</span>
<span class="t" id="bu7" style="left:872.55px;top:279.01px;font-size:17px;font-weight:400;font-style:normal;color:#000;transform:scaleX(1.0500);letter-spacing:0.00px;-webkit-text-stroke:0;">▪</span>
<span class="t" id="l8" style="left:885.46px;top:298.96px;font-size:16px;font-weight:400;font-style:normal;color:#000;transform:scaleX(1.1388);letter-spacing:0.00px;-webkit-text-stroke:0.5px #000;">Molecular Imaging</span>
<span class="t" id="bu8" style="left:872.55px;top:298.11px;font-size:17px;font-weight:400;font-style:normal;color:#000;transform:scaleX(1.0500);letter-spacing:0.00px;-webkit-text-stroke:0;">▪</span>
<span class="t" id="l9" style="left:875.34px;top:318.06px;font-size:16px;font-weight:700;font-style:normal;color:#000;transform:scaleX(1.0555);letter-spacing:0.00px;-webkit-text-stroke:0.6px #000;">By Application</span>
<span class="t" id="l10" style="left:885.50px;top:337.16px;font-size:16px;font-weight:400;font-style:normal;color:#000;transform:scaleX(1.0972);letter-spacing:0.00px;-webkit-text-stroke:0.5px #000;">Breast Imaging</span>
<span class="t" id="bu10" style="left:872.55px;top:336.31px;font-size:17px;font-weight:400;font-style:normal;color:#000;transform:scaleX(1.0500);letter-spacing:0.00px;-webkit-text-stroke:0;">▪</span>
<span class="t" id="l11" style="left:885.48px;top:356.26px;font-size:16px;font-weight:400;font-style:normal;color:#000;transform:scaleX(1.1232);letter-spacing:0.00px;-webkit-text-stroke:0.5px #000;">Lung Imaging</span>
<span class="t" id="bu11" style="left:872.55px;top:355.41px;font-size:17px;font-weight:400;font-style:normal;color:#000;transform:scaleX(1.0500);letter-spacing:0.00px;-webkit-text-stroke:0;">▪</span>
<span class="t" id="l12" style="left:885.48px;top:375.36px;font-size:16px;font-weight:400;font-style:normal;color:#000;transform:scaleX(1.1236);letter-spacing:0.00px;-webkit-text-stroke:0.5px #000;">Neurology</span>
<span class="t" id="bu12" style="left:872.55px;top:374.51px;font-size:17px;font-weight:400;font-style:normal;color:#000;transform:scaleX(1.0500);letter-spacing:0.00px;-webkit-text-stroke:0;">▪</span>
<span class="t" id="l13" style="left:890.90px;top:394.46px;font-size:16px;font-weight:400;font-style:normal;color:#000;transform:scaleX(1.1243);letter-spacing:0.00px;-webkit-text-stroke:0.5px #000;">Cardiovascular</span>
<span class="t" id="bu13" style="left:872.55px;top:393.61px;font-size:17px;font-weight:400;font-style:normal;color:#000;transform:scaleX(1.0500);letter-spacing:0.00px;-webkit-text-stroke:0;">▪</span>
<span class="t" id="l14" style="left:873.20px;top:413.56px;font-size:16px;font-weight:400;font-style:normal;color:#000;transform:scaleX(1.1349);letter-spacing:0.00px;-webkit-text-stroke:0.5px #000;">Applications</span>
<span class="t" id="l15" style="left:889.79px;top:432.66px;font-size:16px;font-weight:400;font-style:normal;color:#000;transform:scaleX(1.1053);letter-spacing:0.00px;-webkit-text-stroke:0.5px #000;">Liver Imaging</span>
<span class="t" id="bu15" style="left:872.55px;top:431.81px;font-size:17px;font-weight:400;font-style:normal;color:#000;transform:scaleX(1.0500);letter-spacing:0.00px;-webkit-text-stroke:0;">▪</span>
<span class="t" id="l16" style="left:886.60px;top:451.76px;font-size:16px;font-weight:400;font-style:normal;color:#000;transform:scaleX(1.1338);letter-spacing:0.00px;-webkit-text-stroke:0.5px #000;">Other Applications</span>
<span class="t" id="bu16" style="left:872.55px;top:450.91px;font-size:17px;font-weight:400;font-style:normal;color:#000;transform:scaleX(1.0500);letter-spacing:0.00px;-webkit-text-stroke:0;">▪</span>
<span class="t" id="l17" style="left:872.25px;top:470.86px;font-size:16px;font-weight:700;font-style:normal;color:#000;transform:scaleX(0.9483);letter-spacing:0.00px;-webkit-text-stroke:0.6px #000;">By End-Use</span>
<span class="t" id="l18" style="left:885.55px;top:489.96px;font-size:16px;font-weight:400;font-style:normal;color:#000;transform:scaleX(1.0492);letter-spacing:0.00px;-webkit-text-stroke:0.5px #000;">Hospitals</span>
<span class="t" id="bu18" style="left:872.55px;top:489.11px;font-size:17px;font-weight:400;font-style:normal;color:#000;transform:scaleX(1.0500);letter-spacing:0.00px;-webkit-text-stroke:0;">▪</span>
<span class="t" id="l19" style="left:890.90px;top:509.06px;font-size:16px;font-weight:400;font-style:normal;color:#000;transform:scaleX(1.0489);letter-spacing:0.00px;-webkit-text-stroke:0.5px #000;">Clinics</span>
<span class="t" id="bu19" style="left:872.55px;top:508.21px;font-size:17px;font-weight:400;font-style:normal;color:#000;transform:scaleX(1.0500);letter-spacing:0.00px;-webkit-text-stroke:0;">▪</span>
<span class="t" id="l20" style="left:889.81px;top:528.16px;font-size:16px;font-weight:400;font-style:normal;color:#000;transform:scaleX(1.0940);letter-spacing:0.00px;-webkit-text-stroke:0.5px #000;">Diagnostic Centers</span>
<span class="t" id="bu20" style="left:872.55px;top:527.31px;font-size:17px;font-weight:400;font-style:normal;color:#000;transform:scaleX(1.0500);letter-spacing:0.00px;-webkit-text-stroke:0;">▪</span>
</div>
</body></html>
